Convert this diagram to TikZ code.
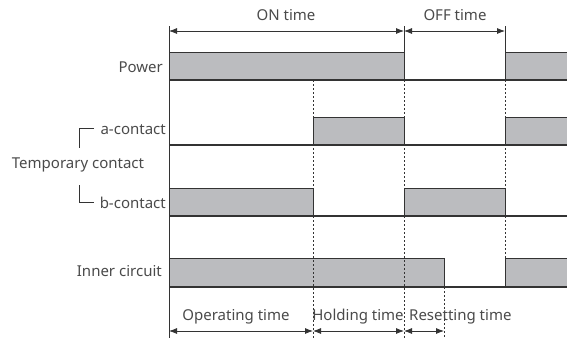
\documentclass[tikz,border=0pt]{standalone}
\usepackage{fontspec}
\setmainfont{Noto Sans}
\usetikzlibrary{arrows.meta}
\definecolor{barfill}{HTML}{BBBCBF}
\definecolor{inkgray}{HTML}{333333}
\definecolor{txtgray}{HTML}{4A4A4A}
\begin{document}
\begin{tikzpicture}[x=1pt,y=-1pt,
        bar/.style={
            fill=barfill,
            draw=inkgray, line width=1pt},
        base/.style={
            draw=inkgray, line width=1.2pt},
        tick/.style={
            draw=inkgray, line width=0.6pt},
        guide/.style={
            draw=inkgray, line width=0.6pt,
            dash pattern=on 2pt off 2pt},
        span/.style={
            draw=inkgray, line width=0.8pt,
            {Latex[length=8pt,width=6pt]}-{Latex[length=8pt,width=6pt]}},
        lbl/.style={
            text=txtgray,
            font=\fontsize{15}{17}\selectfont,
            inner sep=1pt}
        ]

        \useasboundingbox (0,0) rectangle (567,338);

        % time marks
        \coordinate (onL) at (169,31);
        \coordinate (onR) at (404,31);
        \coordinate (offR) at (505,31);
        \coordinate (opL) at (169,331);
        \coordinate (opR) at (313,331);
        \coordinate (hoR) at (404,331);
        \coordinate (reR) at (444,331);

        % bars
        \filldraw [bar] (169,80) -- (169,52) -- (404,52) -- (404,80);
        \filldraw [bar] (567,52) -- (505,52) -- (505,80) -- (567,80);
        \filldraw [bar] (313,145) -- (313,117) -- (404,117) -- (404,145);
        \filldraw [bar] (567,117) -- (505,117) -- (505,145) -- (567,145);
        \filldraw [bar] (169,216) -- (169,188) -- (313,188) -- (313,216);
        \filldraw [bar] (404,216) -- (404,188) -- (505,188) -- (505,216);
        \filldraw [bar] (169,287) -- (169,258) -- (444,258) -- (444,287);
        \filldraw [bar] (567,258) -- (505,258) -- (505,287) -- (567,287);

        % base lines
        \draw [base] (169,80) -- (567,80);
        \draw [base] (169,145) -- (567,145);
        \draw [base] (169,216) -- (567,216);
        \draw [base] (169,287) -- (567,287);

        % axis and guides
        \draw [tick] (169,26) -- (169,338);
        \draw [tick] (404,26) -- (404,52);
        \draw [tick] (505,26) -- (505,52);
        \draw [guide] (313,80) -- (313,338);
        \draw [guide] (404,80) -- (404,338);
        \draw [guide] (505,80) -- (505,258);
        \draw [guide] (444,287) -- (444,338);

        % spans
        \draw [span] (onL) -- (onR);
        \draw [span] (onR) -- (offR);
        \draw [span] (opL) -- (opR);
        \draw [span] (opR) -- (hoR);
        \draw [span] (hoR) -- (reR);

        \node (ontime) [lbl] at (286,15) {ON time};
        \node (offtime) [lbl] at (455,15) {OFF time};
        \node (optime) [lbl] at (236,317) {Operating time};
        \node (holdtime) [lbl] at (358,317) {Holding time};
        \node (resettime) [lbl, anchor=west] at (408,317) {Resetting time};

        % row labels
        \node (power) [lbl, anchor=east] at (164,67) {Power};
        \node (acontact) [lbl, anchor=east] at (167,130) {a-contact};
        \node (temp) [lbl] at (78,165) {Temporary contact};
        \node (bcontact) [lbl, anchor=east] at (167,203) {b-contact};
        \node (inner) [lbl, anchor=east] at (163,271) {Inner circuit};

        \draw [tick, line width=0.8pt] (94,128) -- (79,128) -- (79,148);
        \draw [tick, line width=0.8pt] (79,185) -- (79,202) -- (94,202);

        \end{tikzpicture}
\end{document}
